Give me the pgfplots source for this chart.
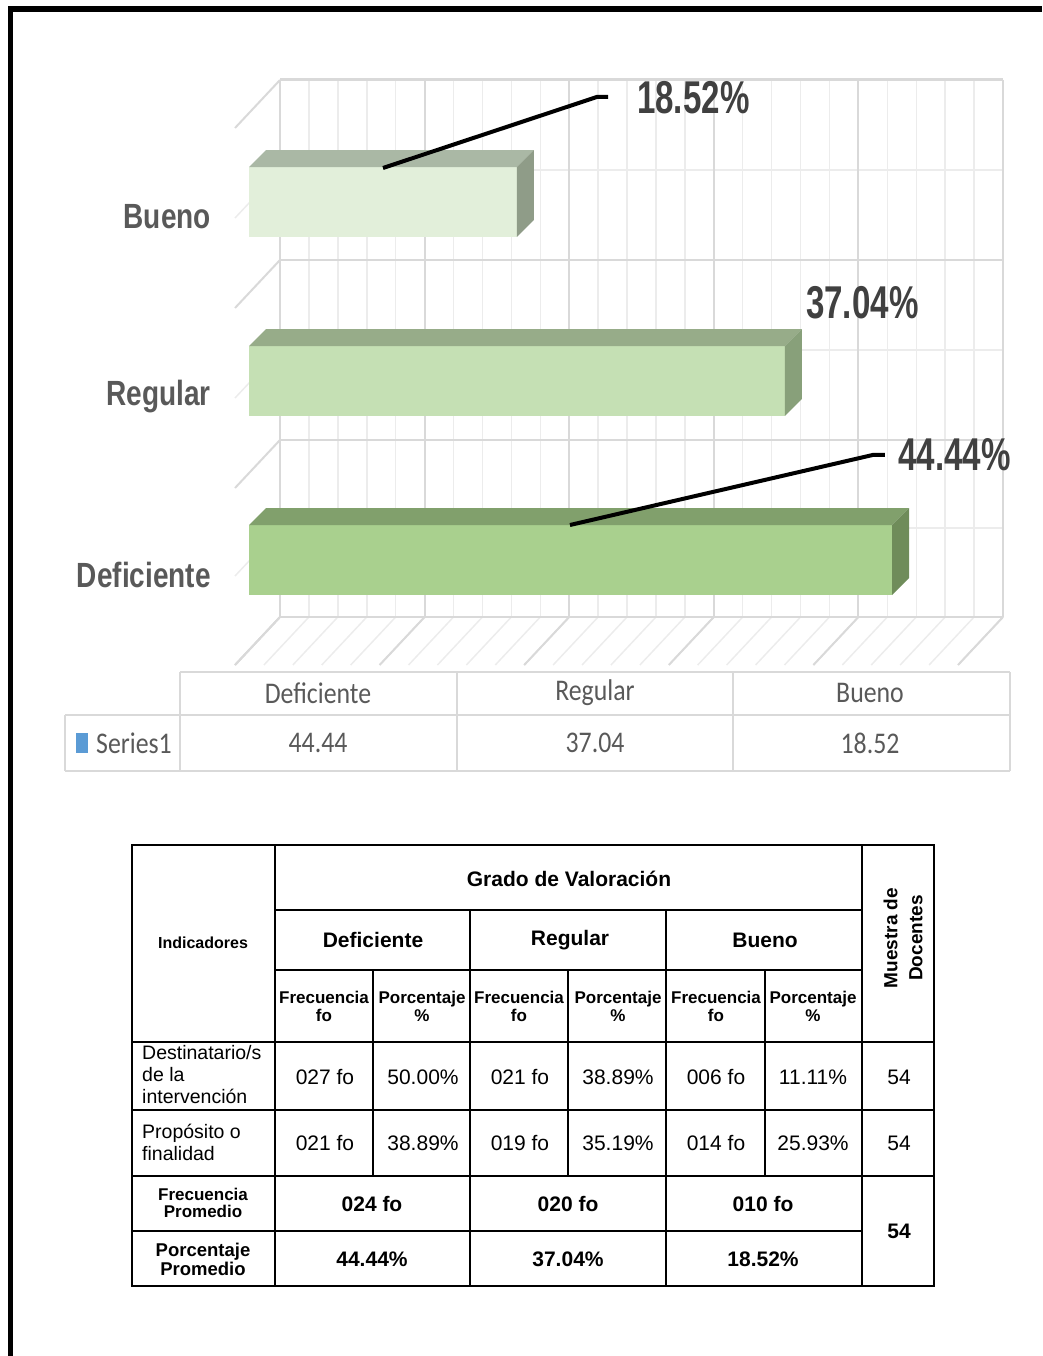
\documentclass[border=0pt]{standalone}
\usepackage{fontspec}
\setmainfont{Liberation Sans}
\newfontfamily\lbl[FakeStretch=0.8]{Liberation Sans}
\newfontfamily\dlbl[FakeStretch=0.72]{Liberation Sans}
\newfontfamily\calib[FakeStretch=0.86]{Carlito}
\usepackage{pgfplots}
\pgfplotsset{compat=1.18}
\definecolor{gmaj}{HTML}{D9D9D9}
\definecolor{gmin}{HTML}{ECECEC}
\definecolor{dfront}{HTML}{A9D08E}
\definecolor{dtop}{HTML}{81A06C}
\definecolor{dside}{HTML}{6F8C5A}
\definecolor{rfront}{HTML}{C5E0B4}
\definecolor{rtop}{HTML}{97AC89}
\definecolor{rside}{HTML}{88A07A}
\definecolor{bfront}{HTML}{E2EFDA}
\definecolor{btop}{HTML}{AAB8A5}
\definecolor{bside}{HTML}{8F9C88}
\definecolor{lblgray}{HTML}{595959}
\definecolor{dlgray}{HTML}{404040}
\definecolor{tblline}{HTML}{D9D9D9}
\definecolor{serblue}{HTML}{5B9BD5}
\begin{document}
\begin{tikzpicture}
% ---------- background grid (pixel coordinates) ----------
\begin{scope}[x=1pt,y=-1pt]
  % frame
  \fill[black] (8,6) rectangle (1042,12);
  \fill[black] (8,6) rectangle (13,1356);
  % minor verticals on back wall + floor diagonals
  \foreach \k in {0,...,25}{
    \pgfmathsetmacro\xx{280+\k*28.92}
    \draw[gmin,line width=1.5pt] (\xx,80) -- (\xx,617);
    \draw[gmin,line width=1.5pt] (\xx,617) -- (\xx-45,665);
  }
  % minor horizontals + left wall diagonals
  \foreach \yy in {170,350,528}{
    \draw[gmin,line width=1.5pt] (280,\yy) -- (1003,\yy);
    \draw[gmin,line width=1.5pt] (280,\yy) -- (235,\yy+48);
  }
  % major
  \foreach \k in {0,5,...,25}{
    \pgfmathsetmacro\xx{280+\k*28.92}
    \draw[gmaj,line width=2pt] (\xx,80) -- (\xx,617);
    \draw[gmaj,line width=2pt] (\xx,617) -- (\xx-45,665);
  }
  \foreach \yy in {260,440,617}{
    \draw[gmaj,line width=2pt] (280,\yy) -- (1003,\yy);
    \draw[gmaj,line width=2pt] (280,\yy) -- (235,\yy+48);
  }
  \draw[gmaj,line width=3pt] (280,80) -- (1003,80);
  \draw[gmaj,line width=2pt] (280,80) -- (235,128);
\end{scope}
% ---------- bars ----------
\begin{axis}[
  at={(205.59pt,-694.25pt)}, anchor=south west,
  scale only axis, width=836.37pt, height=653.35pt,
  xmin=-3, xmax=54.8, ymin=-0.75, ymax=2.9,
  clip=false,
  axis line style={draw=none}, tick style={draw=none},
  xtick=\empty,
  ytick={-0.084,0.916,1.916},
  yticklabels={Deficiente,Regular,Bueno},
  yticklabel style={font=\lbl\bfseries\fontsize{35}{40}\selectfont, text=lblgray, inner sep=0pt, anchor=east, xshift=5.4pt},
]
% front faces
\addplot[xbar, bar width=0.391, fill=dfront, draw=none] coordinates {(44.44,0)};
\addplot[xbar, bar width=0.391, fill=rfront, draw=none] coordinates {(37.04,1)};
\addplot[xbar, bar width=0.391, fill=bfront, draw=none] coordinates {(18.52,2)};
% top faces
\addplot[fill=dtop, draw=none] coordinates {(0,0.1955) (44.44,0.1955) (45.615,0.2905) (1.175,0.2905)} -- cycle;
\addplot[fill=rtop, draw=none] coordinates {(0,1.1955) (37.04,1.1955) (38.215,1.2905) (1.175,1.2905)} -- cycle;
\addplot[fill=btop, draw=none] coordinates {(0,2.1955) (18.52,2.1955) (19.695,2.2905) (1.175,2.2905)} -- cycle;
% side faces
\addplot[fill=dside, draw=none] coordinates {(44.44,-0.1955) (44.44,0.1955) (45.615,0.2905) (45.615,-0.1005)} -- cycle;
\addplot[fill=rside, draw=none] coordinates {(37.04,0.8045) (37.04,1.1955) (38.215,1.2905) (38.215,0.8995)} -- cycle;
\addplot[fill=bside, draw=none] coordinates {(18.52,1.8045) (18.52,2.1955) (19.695,2.2905) (19.695,1.8995)} -- cycle;
% leader lines
\addplot[black, line width=4pt] coordinates {(22.18,0.1955) (43.12,0.587) (43.95,0.587)};
\addplot[black, line width=4pt] coordinates {(9.26,2.19) (24.05,2.587) (24.81,2.587)};
% data labels
\node[anchor=west, inner sep=0pt, text=dlgray, font=\dlbl\bfseries\fontsize{46}{50}\selectfont] at (axis cs:44.85,0.587) {44.44\%};
\node[anchor=west, inner sep=0pt, text=dlgray, font=\dlbl\bfseries\fontsize{46}{50}\selectfont] at (axis cs:38.49,1.436) {37.04\%};
\node[anchor=west, inner sep=0pt, text=dlgray, font=\dlbl\bfseries\fontsize{46}{50}\selectfont] at (axis cs:26.81,2.581) {18.52\%};
\end{axis}
% ---------- data table & summary table ----------
\begin{scope}[x=1pt,y=-1pt]
  \begin{scope}[tblline, line width=2.5pt]
    \draw (180,672) -- (1010,672);
    \draw (65,715) -- (1010,715);
    \draw (65,771) -- (1010,771);
    \draw (65,715) -- (65,771);
    \draw (180,672) -- (180,771);
    \draw (457,672) -- (457,771);
    \draw (733,672) -- (733,771);
    \draw (1010,672) -- (1010,771);
  \end{scope}
  \begin{scope}[every node/.style={inner sep=0pt, text=lblgray, font=\calib\fontsize{30}{30}\selectfont}]
    \node at (318,693) {Deficiente};
    \node at (595,693) {Regular};
    \node at (870,693) {Bueno};
    \node at (318,743) {44.44};
    \node at (595,743) {37.04};
    \node at (870,743) {18.52};
    \node[anchor=west] at (96,743) {Series1};
  \end{scope}
  \fill[serblue] (76,733) rectangle (88,753);
  % summary table lines
  \begin{scope}[black, line width=1.6pt]
    \draw (132,845) rectangle (934,1286);
    \draw (275,845) -- (275,1286);
    \draw (862,845) -- (862,1286);
    \draw (275,910) -- (862,910);
    \draw (275,970) -- (862,970);
    \draw (132,1042) -- (934,1042);
    \draw (132,1110) -- (934,1110);
    \draw (132,1176) -- (934,1176);
    \draw (132,1231) -- (862,1231);
    \draw (470,910) -- (470,1286);
    \draw (666,910) -- (666,1286);
    \draw (373,970) -- (373,1176);
    \draw (568,970) -- (568,1176);
    \draw (765,970) -- (765,1176);
  \end{scope}
  \begin{scope}[every node/.style={inner sep=0pt, text=black}]
    \node[font=\bfseries\fontsize{16}{18}\selectfont] at (203,943) {Indicadores};
    \node[font=\bfseries\fontsize{21}{24}\selectfont] at (569,879) {Grado de Valoración};
    \node[font=\bfseries\fontsize{21}{24}\selectfont] at (373,940) {Deficiente};
    \node[font=\bfseries\fontsize{21}{24}\selectfont] at (570,940) {Regular};
    \node[font=\bfseries\fontsize{21}{24}\selectfont] at (765,940) {Bueno};
    \node[font=\bfseries\fontsize{19}{25}\selectfont, rotate=90, align=center] at (903,938) {Muestra de\\Docentes};
    \foreach \cx in {324,519,716}{
      \node[font=\bfseries\fontsize{17}{18}\selectfont, align=center] at (\cx,1006) {Frecuencia\\fo};
    }
    \foreach \cx in {422,618,813}{
      \node[font=\bfseries\fontsize{17}{18}\selectfont, align=center] at (\cx,1006) {Porcentaje\\\%};
    }
    \node[font=\fontsize{19.5}{22}\selectfont, align=left, anchor=west] at (142,1075) {Destinatario/s\\de la\\intervención};
    \node[font=\fontsize{19.5}{22}\selectfont, align=left, anchor=west] at (142,1142) {Propósito o\\finalidad};
    \begin{scope}[every node/.append style={font=\fontsize{21}{24}\selectfont}]
      \node at (325,1077) {027 fo};
      \node at (423,1077) {50.00\%};
      \node at (520,1077) {021 fo};
      \node at (618,1077) {38.89\%};
      \node at (716,1077) {006 fo};
      \node at (813,1077) {11.11\%};
      \node at (899,1077) {54};
      \node at (325,1143) {021 fo};
      \node at (423,1143) {38.89\%};
      \node at (520,1143) {019 fo};
      \node at (618,1143) {35.19\%};
      \node at (716,1143) {014 fo};
      \node at (813,1143) {25.93\%};
      \node at (899,1143) {54};
    \end{scope}
    \node[font=\bfseries\fontsize{17}{17}\selectfont, align=center] at (203,1203) {Frecuencia\\Promedio};
    \node[font=\bfseries\fontsize{18.5}{19}\selectfont, align=center] at (203,1259) {Porcentaje\\Promedio};
    \begin{scope}[every node/.append style={font=\bfseries\fontsize{21}{24}\selectfont}]
      \node at (372,1204) {024 fo};
      \node at (568,1204) {020 fo};
      \node at (763,1204) {010 fo};
      \node at (372,1259) {44.44\%};
      \node at (568,1259) {37.04\%};
      \node at (763,1259) {18.52\%};
      \node at (899,1231) {54};
    \end{scope}
  \end{scope}
\end{scope}
\pgfresetboundingbox
\path[use as bounding box] (0pt,0pt) rectangle (1042pt,-1356pt);
\end{tikzpicture}
\end{document}
